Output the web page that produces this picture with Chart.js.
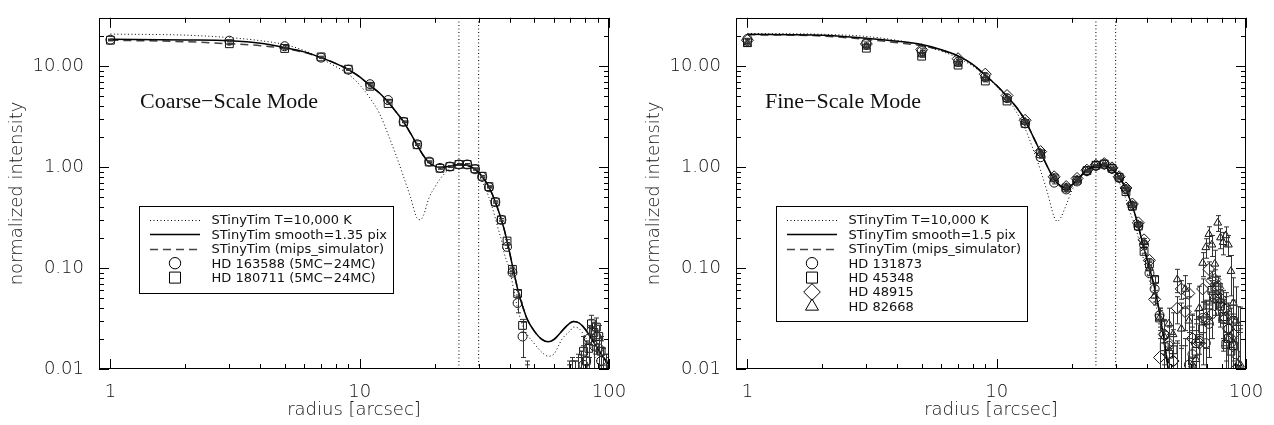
<!DOCTYPE html>
<html>
<head>
<meta charset="utf-8">
<script src="https://cdn.jsdelivr.net/npm/chart.js@4.4.1/dist/chart.umd.min.js"></script>
<style>
html,body{margin:0;padding:0;background:#fff}
#wrap{position:relative;width:1274px;height:425px}
canvas{position:absolute;top:0}
#left{left:0}
#right{left:637px}
</style>
</head>
<body>
<div id="wrap">
<canvas id="left" width="637" height="425"></canvas>
<canvas id="right" width="637" height="425"></canvas>
</div>
<script>
// ---- axis ticks ----
let xTickValues=[1,2,3,4,5,6,7,8,9,10,20,30,40,50,60,70,80,90,100]
let yTickValues=[0.01,0.02,0.03,0.04,0.05,0.06,0.07,0.08,0.09,0.1,0.2,0.3,0.4,0.5,0.6,0.7,0.8,0.9,1,2,3,4,5,6,7,8,9,10,20,30]
let xRange=[0.9,100]
let yRange=[0.01,30]
let apertureLines=[25,30]

// ---- left panel: coarse-scale mode ----
let leftModelDotX=[1,2,3,4,5,6,7,8,9,10,11,12,13,14,15,16,17,17.5,18,19,20,21,22,23,24,25,26,27,28,29,30,31,32,33,34,35,36,37,38,39,40,42,44,46,50,54,57,60,65,70,72,76,80,84,88,92,96,100]
let leftModelDotY=[20.7,20.2,19.1,17.8,16.3,14.2,11.8,9.9,8.3,6.5,4.8,3.4,2.1,1.3,0.8,0.5,0.31,0.30,0.33,0.5,0.63,0.76,0.87,0.96,1.02,1.05,1.05,1.03,0.98,0.91,0.82,0.72,0.61,0.5,0.4,0.31,0.24,0.19,0.14,0.115,0.095,0.052,0.032,0.024,0.018,0.0145,0.0134,0.014,0.02,0.024,0.026,0.025,0.021,0.017,0.013,0.0105,0.008,0.0065]
let leftSmoothX=[1,2,3,4,5,6,7,8,9,10,11,12,13,14,15,16,17,18,19,20,21,22,23,24,25,26,27,28,29,30,31,32,33,34,35,36,37,38,39,40,41,42,43,44,45,47,50,54,57,60,64,68,72,76,80,85,90,95,100]
let leftSmoothY=[18.4,18.1,17.8,16.8,15.2,13.8,12.1,10.6,9.2,7.8,6.4,5.4,4.4,3.5,2.8,2.15,1.65,1.3,1.1,1.02,0.99,1.0,1.02,1.04,1.05,1.05,1.04,1.0,0.95,0.88,0.8,0.72,0.63,0.54,0.45,0.37,0.3,0.24,0.185,0.14,0.105,0.08,0.062,0.05,0.042,0.031,0.024,0.0195,0.0186,0.0195,0.023,0.027,0.0295,0.0285,0.025,0.02,0.016,0.013,0.011]
let leftSimX=[1,2,3,4,5,6,7,8,9,10,11,12,13,14,15,16,17,18,19,20,21,22,23,24,25,26,27,28,29,30,31,32,33,34,35,36,37,38,39,40,41,42,43,44,45,47,50,54,57,60,64,68,72,76,80,85,90,95,100]
let leftSimY=[18.0,17.4,16.6,15.9,14.9,13.6,12.1,10.6,9.2,7.8,6.4,5.4,4.4,3.5,2.8,2.15,1.65,1.3,1.1,1.02,0.99,1.0,1.02,1.04,1.05,1.05,1.04,1.0,0.95,0.88,0.8,0.72,0.63,0.54,0.45,0.37,0.3,0.24,0.185,0.14,0.105,0.08,0.062,0.05,0.042,0.031,0.024,0.0195,0.0186,0.0195,0.023,0.027,0.0295,0.0285,0.025,0.02,0.016,0.013,0.011]

let leftRadius=[1,3,5,7,9,11,13,15,17,19,21,23,25,27,29,31,33,35,37,39,41,43,45,47,49,51,53,55,57,59,61,63,65,67,69,71,73,75,77,79,81,83,85,87,89,91,93,95,97,99]
let hd163588=[18.2,17.8,15.7,12.1,9.2,6.6,4.6,2.8,1.68,1.13,0.98,1.01,1.06,1.06,0.95,0.80,0.63,0.45,0.30,0.162,0.090,0.045,0.021,0.006,0.005,0.004,0.005,0.004,0.005,0.004,0.005,0.004,0.005,0.004,0.006,0.007,0.006,0.008,0.009,0.011,0.012,0.02,0.024,0.017,0.021,0.016,0.012,0.009,0.007,0.006]
let hd163588Err=[0.3,0.3,0.25,0.2,0.15,0.1,0.08,0.05,0.03,0.02,0.02,0.02,0.02,0.02,0.02,0.015,0.012,0.01,0.008,0.006,0.005,0.009,0.008,0.006,0.005,0.005,0.005,0.005,0.005,0.005,0.005,0.005,0.005,0.005,0.006,0.006,0.006,0.006,0.006,0.006,0.007,0.007,0.007,0.007,0.007,0.007,0.007,0.007,0.007,0.007]
let hd180711=[18.0,16.6,14.9,12.3,9.3,6.3,4.25,2.8,1.66,1.12,0.97,1.01,1.06,1.06,0.96,0.81,0.64,0.45,0.30,0.185,0.097,0.056,0.027,0.006,0.005,0.004,0.005,0.004,0.005,0.004,0.005,0.004,0.005,0.004,0.005,0.006,0.005,0.007,0.009,0.015,0.012,0.016,0.028,0.023,0.026,0.021,0.015,0.01,0.008,0.006]
let hd180711Err=[0.3,0.3,0.25,0.2,0.15,0.1,0.08,0.05,0.03,0.02,0.02,0.02,0.02,0.02,0.02,0.015,0.012,0.01,0.008,0.006,0.005,0.004,0.004,0.005,0.005,0.005,0.005,0.005,0.005,0.005,0.005,0.005,0.005,0.005,0.006,0.006,0.007,0.006,0.006,0.006,0.006,0.006,0.006,0.006,0.006,0.006,0.006,0.006,0.006,0.006]

// ---- right panel: fine-scale mode ----
let rightModelDotX=[1,2,3,4,5,6,7,8,9,10,11,12,13,14,15,16,17,17.5,18,19,20,21,22,23,24,25,26,27,28,29,30,31,32,33,34,35,36,37,38,39,40,41,42,43,44,45,46,47,48,49,50]
let rightModelDotY=[21.0,20.6,19.6,17.9,16.0,14.0,12.0,10.0,8.0,6.3,4.8,3.5,2.4,1.5,0.92,0.55,0.32,0.29,0.31,0.42,0.58,0.72,0.85,0.95,1.01,1.04,1.04,1.02,0.97,0.9,0.8,0.7,0.59,0.48,0.38,0.31,0.26,0.2,0.155,0.115,0.092,0.074,0.059,0.047,0.038,0.03,0.024,0.018,0.014,0.011,0.0085]
let rightSmoothX=[1,2,3,4,5,6,7,8,9,10,11,12,13,14,15,16,17,18,19,20,21,22,23,24,25,26,27,28,29,30,31,32,33,34,35,36,37,38,39,40,41,42,43,44,45,46,47,48,49]
let rightSmoothY=[20.6,20.2,18.8,17.6,16.3,14.5,12.6,10.4,8.1,6.4,5.0,3.9,2.9,2.0,1.4,1.0,0.76,0.65,0.62,0.66,0.74,0.84,0.93,0.99,1.03,1.05,1.04,1.01,0.95,0.88,0.79,0.7,0.6,0.5,0.41,0.33,0.26,0.2,0.155,0.125,0.1,0.08,0.063,0.048,0.036,0.026,0.019,0.013,0.009]
let rightSimX=[1,2,3,4,5,6,7,8,9,10,11,12,13,14,15,16,17,18,19,20,21,22,23,24,25,26,27,28,29,30,31,32,33,34,35,36,37,38,39,40,41,42,43,44,45,46,47,48,49]
let rightSimY=[20.4,19.8,18.3,17.0,15.9,14.3,12.5,10.4,8.1,6.4,5.0,3.9,2.9,2.0,1.4,1.0,0.76,0.65,0.62,0.66,0.74,0.84,0.93,0.99,1.03,1.05,1.04,1.01,0.95,0.88,0.79,0.7,0.6,0.5,0.41,0.33,0.26,0.2,0.155,0.125,0.1,0.08,0.063,0.048,0.036,0.026,0.019,0.013,0.009]

let rightRadius=[1,3,5,7,9,11,13,15,17,19,21,23,25,27,29,31,33,35,37,39,41,43,45,47,49,51,53,55,57,59,61,63,65,67,69,71,73,75,77,79,81,83,85,87,89,91,93,95]
let hd131873=[18.5,17.0,14.0,11.0,7.8,4.8,2.7,1.25,0.70,0.60,0.72,0.91,1.03,1.06,0.96,0.78,0.60,0.41,0.26,0.17,0.089,0.062,0.034,0.022,0.017,0.012,0.008,0.006,0.009,0.011,0.014,0.018,0.019,0.032,0.018,0.028,0.035,0.05,0.067,0.045,0.031,0.04,0.025,0.018,0.03,0.014,0.009,0.007]
let hd131873Err=[0.3,0.3,0.3,0.2,0.15,0.1,0.05,0.03,0.02,0.015,0.015,0.02,0.02,0.02,0.02,0.02,0.015,0.01,0.008,0.006,0.005,0.005,0.006,0.008,0.009,0.01,0.01,0.01,0.011,0.012,0.012,0.013,0.013,0.014,0.014,0.015,0.015,0.016,0.016,0.016,0.016,0.017,0.017,0.017,0.018,0.018,0.018,0.018]
let hd45348=[17.0,15.0,12.5,10.2,7.1,4.5,2.7,1.35,0.78,0.62,0.74,0.92,1.04,1.07,0.97,0.79,0.57,0.41,0.26,0.146,0.11,0.077,0.032,0.0166,0.014,0.0155,0.009,0.007,0.006,0.008,0.012,0.015,0.02,0.025,0.03,0.043,0.06,0.065,0.05,0.042,0.033,0.0175,0.02,0.015,0.017,0.009,0.006,0.005]
let hd45348Err=[0.3,0.3,0.3,0.2,0.15,0.1,0.05,0.03,0.02,0.015,0.015,0.02,0.02,0.02,0.02,0.02,0.015,0.01,0.008,0.006,0.005,0.005,0.006,0.007,0.008,0.009,0.01,0.01,0.011,0.012,0.012,0.013,0.013,0.014,0.014,0.015,0.015,0.016,0.016,0.016,0.016,0.017,0.017,0.017,0.018,0.018,0.018,0.018]
let hd48915=[18.0,16.5,14.5,11.8,8.3,5.1,2.9,1.42,0.80,0.64,0.77,0.93,1.04,1.08,0.98,0.80,0.62,0.43,0.28,0.19,0.119,0.049,0.013,0.022,0.018,0.012,0.04,0.062,0.037,0.056,0.02,0.009,0.018,0.062,0.032,0.097,0.075,0.077,0.063,0.05,0.04,0.032,0.025,0.02,0.022,0.01,0.008,0.006]
let hd48915Err=[0.3,0.3,0.3,0.2,0.15,0.1,0.05,0.03,0.02,0.015,0.015,0.02,0.02,0.02,0.02,0.02,0.015,0.01,0.008,0.006,0.005,0.006,0.007,0.008,0.009,0.01,0.012,0.013,0.013,0.014,0.014,0.015,0.015,0.016,0.016,0.018,0.018,0.019,0.019,0.02,0.02,0.02,0.02,0.02,0.021,0.021,0.021,0.021]
let hd82668=[16.5,15.5,13.0,10.5,7.5,4.7,2.8,1.38,0.78,0.63,0.75,0.92,1.04,1.07,0.97,0.80,0.61,0.42,0.27,0.18,0.10,0.053,0.032,0.021,0.028,0.022,0.077,0.025,0.062,0.03,0.011,0.0125,0.04,0.112,0.16,0.216,0.17,0.11,0.28,0.20,0.18,0.21,0.17,0.093,0.045,0.03,0.0114,0.011]
let hd82668Err=[0.3,0.3,0.3,0.2,0.15,0.1,0.05,0.03,0.02,0.015,0.015,0.02,0.02,0.02,0.02,0.02,0.015,0.01,0.008,0.006,0.006,0.007,0.008,0.01,0.012,0.014,0.02,0.02,0.022,0.022,0.024,0.025,0.026,0.03,0.035,0.04,0.04,0.04,0.05,0.045,0.045,0.045,0.04,0.04,0.035,0.035,0.03,0.03]

// ---- helpers ----
function pts(xs,ys){return xs.map((x,i)=>({x:x,y:ys[i]}))}
function isDecade(v){let l=Math.log10(v);return Math.abs(l-Math.round(l))<1e-6}

let tickFont={family:"'DejaVu Sans', 'Liberation Sans', sans-serif",size:18,weight:'200'}

function curve(label,xs,ys,dash,width,color){
return {label:label,data:pts(xs,ys),showLine:true,borderColor:color,borderWidth:width,borderDash:dash,
pointRadius:0,cubicInterpolationMode:'monotone',legend:true,order:2}
}
function stars(label,xs,ys,errs,style,r,lr){
return {label:label,data:pts(xs,ys),showLine:false,pointStyle:style,pointRadius:r,legendRadius:lr,
borderColor:'#111',borderWidth:1,backgroundColor:'rgba(0,0,0,0)',errors:errs,legend:true,order:1}
}
function vline(x){
return {label:'',data:[{x:x,y:yRange[0]},{x:x,y:yRange[1]}],showLine:true,borderColor:'#000',borderWidth:1,
borderDash:[1,2.5],pointRadius:0,legend:false,order:3}
}

// inward ticks on all four sides + frame (IDL style)
let boxTicks={
id:'boxTicks',
afterDraw(chart){
let ctx=chart.ctx,a=chart.chartArea,xs=chart.scales.x,ys=chart.scales.y
ctx.save()
ctx.strokeStyle='#000'
ctx.lineWidth=1
ctx.beginPath()
xs.ticks.forEach(t=>{
let px=Math.round(xs.getPixelForValue(t.value))+0.5
let len=isDecade(t.value)?10:5
ctx.moveTo(px,a.bottom);ctx.lineTo(px,a.bottom-len)
ctx.moveTo(px,a.top);ctx.lineTo(px,a.top+len)
})
ys.ticks.forEach(t=>{
let py=Math.round(ys.getPixelForValue(t.value))+0.5
let len=isDecade(t.value)?10:5
ctx.moveTo(a.left,py);ctx.lineTo(a.left+len,py)
ctx.moveTo(a.right,py);ctx.lineTo(a.right-len,py)
})
ctx.stroke()
ctx.strokeRect(Math.round(a.left)+0.5,Math.round(a.top)+0.5,Math.round(a.right-a.left)-1,Math.round(a.bottom-a.top)-1)
ctx.restore()
}
}

// error bars from the errors arrays
let errorBars={
id:'errorBars',
afterDatasetsDraw(chart){
let ctx=chart.ctx,a=chart.chartArea,ys=chart.scales.y
ctx.save()
ctx.beginPath()
ctx.rect(a.left,a.top,a.right-a.left,a.bottom-a.top)
ctx.clip()
ctx.strokeStyle='#333'
ctx.lineWidth=1
chart.data.datasets.forEach((ds,i)=>{
if(!ds.errors)return
let meta=chart.getDatasetMeta(i)
ds.data.forEach((d,j)=>{
let p=meta.data[j],e=ds.errors[j]
let top=ys.getPixelForValue(d.y+e)
let bot=d.y-e>0?ys.getPixelForValue(d.y-e):a.bottom+10
let x=Math.round(p.x)+0.5
ctx.beginPath()
ctx.moveTo(x,top);ctx.lineTo(x,bot)
ctx.moveTo(x-2.5,top);ctx.lineTo(x+2.5,top)
ctx.moveTo(x-2.5,bot);ctx.lineTo(x+2.5,bot)
ctx.stroke()
})
})
ctx.restore()
}
}

// boxed legend inside the plot
let boxLegend={
id:'boxLegend',
afterDraw(chart,args,o){
let ctx=chart.ctx
let items=chart.data.datasets.filter(d=>d.legend)
ctx.save()
ctx.font=o.font
let wmax=0
items.forEach(d=>{wmax=Math.max(wmax,ctx.measureText(d.label).width)})
let w=Math.round(o.textX+wmax+o.padRight-o.x)
let h=Math.round(o.padTop+o.rowH*(items.length-1)+o.padBottom)
ctx.fillStyle='#fff'
ctx.fillRect(o.x,o.y,w,h)
ctx.strokeStyle='#000'
ctx.lineWidth=1
ctx.strokeRect(o.x+0.5,o.y+0.5,w,h)
items.forEach((d,i)=>{
let cy=o.y+o.padTop+i*o.rowH
ctx.save()
if(d.showLine){
ctx.strokeStyle=d.borderColor
ctx.lineWidth=d.borderWidth
ctx.setLineDash(d.borderDash||[])
ctx.beginPath()
ctx.moveTo(o.lineX0,Math.round(cy)+0.5)
ctx.lineTo(o.lineX1,Math.round(cy)+0.5)
ctx.stroke()
}else{
ctx.strokeStyle='#000'
ctx.fillStyle='rgba(0,0,0,0)'
ctx.lineWidth=1
Chart.helpers.drawPoint(ctx,{pointStyle:d.pointStyle,radius:d.legendRadius,borderWidth:1,rotation:0},o.symX,cy)
}
ctx.restore()
ctx.fillStyle='#111'
ctx.textBaseline='middle'
ctx.fillText(d.label,o.textX,cy+1)
})
ctx.restore()
}
}

let modeLabel={
id:'modeLabel',
afterDraw(chart,args,o){
let ctx=chart.ctx
ctx.save()
ctx.font=o.font
ctx.fillStyle='#111'
ctx.textBaseline='alphabetic'
ctx.fillText(o.text,o.x,o.y)
ctx.restore()
}
}

function makePanel(id,datasets,mode,modeX){
return new Chart(document.getElementById(id).getContext("2d"),{
type:"scatter",
data:{datasets:datasets},
plugins:[errorBars,boxTicks,boxLegend,modeLabel],
options:{
responsive:false,
animation:false,
devicePixelRatio:1,
events:[],
layout:{padding:{top:5,right:28,bottom:0,left:0}},
scales:{
x:{
type:"logarithmic",min:xRange[0],max:xRange[1],
afterBuildTicks(s){s.ticks=xTickValues.map(v=>({value:v}))},
afterFit(s){s.height=56},
grid:{display:false},border:{display:false},
ticks:{autoSkip:false,maxRotation:0,padding:5,color:'#111',font:tickFont,
callback:v=>isDecade(v)?String(Math.round(v)):''},
title:{display:true,text:"radius [arcsec]",color:'#111',font:tickFont,padding:{top:4,bottom:4}}
},
y:{
type:"logarithmic",min:yRange[0],max:yRange[1],
afterBuildTicks(s){s.ticks=yTickValues.map(v=>({value:v}))},
afterFit(s){s.width=99},
grid:{display:false},border:{display:false},
ticks:{autoSkip:false,padding:7,color:'#111',font:tickFont,
callback:v=>isDecade(v)?v.toFixed(2):''},
title:{display:true,text:"normalized intensity",color:'#111',font:tickFont,padding:{top:7,bottom:7}}
}
},
plugins:{
legend:{display:false},
tooltip:{enabled:false},
boxLegend:{x:139,y:206,padTop:14,rowH:14.4,padBottom:15,lineX0:150,lineX1:200,symX:175,textX:211.5,padRight:6,
font:"13px 'DejaVu Sans', sans-serif"},
modeLabel:{text:mode,x:modeX,y:108,font:"22px 'Liberation Serif', serif"}
}
}
})
}

makePanel("left",[
curve("STinyTim T=10,000 K",leftModelDotX,leftModelDotY,[1,2.5],1,'#000'),
curve("STinyTim smooth=1.35 pix",leftSmoothX,leftSmoothY,[],1.5,'#000'),
curve("STinyTim (mips_simulator)",leftSimX,leftSimY,[8,5],1.5,'#444'),
stars("HD 163588 (5MC\u221224MC)",leftRadius,hd163588,hd163588Err,'circle',4.5,5.7),
stars("HD 180711 (5MC\u221224MC)",leftRadius,hd180711,hd180711Err,'rect',5.5,7.8),
vline(apertureLines[0]),vline(apertureLines[1])
],"Coarse\u2212Scale Mode",140)

makePanel("right",[
curve("STinyTim T=10,000 K",rightModelDotX,rightModelDotY,[1,2.5],1,'#000'),
curve("STinyTim smooth=1.5 pix",rightSmoothX,rightSmoothY,[],1.5,'#000'),
curve("STinyTim (mips_simulator)",rightSimX,rightSimY,[8,5],1.5,'#444'),
stars("HD 131873",rightRadius,hd131873,hd131873Err,'circle',4.5,5.7),
stars("HD 45348",rightRadius,hd45348,hd45348Err,'rect',5.5,7.8),
stars("HD 48915",rightRadius,hd48915,hd48915Err,'rectRot',6,8.3),
stars("HD 82668",rightRadius,hd82668,hd82668Err,'triangle',4.5,7.5),
vline(apertureLines[0]),vline(apertureLines[1])
],"Fine\u2212Scale Mode",128)
</script>
</body>
</html>
